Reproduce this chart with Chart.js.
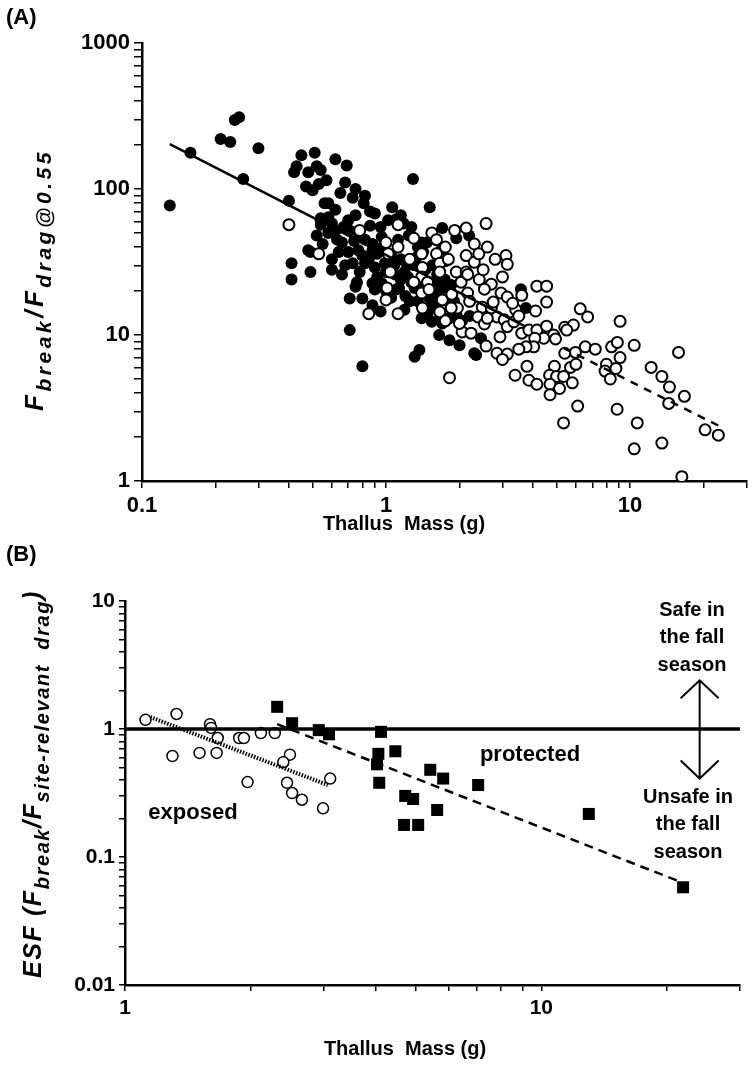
<!DOCTYPE html>
<html>
<head>
<meta charset="utf-8">
<script src="https://cdn.jsdelivr.net/npm/chart.js@4.4.0/dist/chart.umd.min.js"></script>
<style>
  body { margin: 0; background: #fff; width: 754px; height: 1071px; position: relative; overflow: hidden; }
  canvas { position: absolute; left: 0; }
  #chartA { top: 0; }
  #chartB { top: 540px; }
</style>
</head>
<body>
<canvas id="chartA" width="754" height="540"></canvas>
<canvas id="chartB" width="754" height="531"></canvas>
<script>
// ---- panel A: breaking force / drag vs thallus mass ----
const massFilled = [
  0.13, 0.158, 0.21, 0.23, 0.24, 0.25, 0.30, 0.26, 0.40, 0.41, 0.41, 0.49, 0.49, 0.45, 0.51,
  0.43, 0.42, 0.48, 0.52, 0.54, 0.47, 0.50, 0.53, 0.54, 0.54, 0.55, 0.56, 0.48, 0.58, 0.65,
  0.68, 0.69, 0.73, 0.82, 0.81, 0.90, 1.06, 1.29, 1.51, 0.58, 0.54, 0.62, 0.70, 0.71, 0.78,
  0.82, 0.88, 1.02, 1.10, 1.18, 1.27, 1.24, 0.96, 0.97, 0.88, 0.77, 0.70, 0.64, 0.52, 0.60,
  0.60, 0.66, 0.73, 0.82, 0.90, 0.99, 1.09, 1.19, 1.23, 1.27, 1.31, 1.36, 1.35, 1.40, 1.47,
  1.74, 1.72, 0.88, 0.90, 0.96, 0.75, 0.71, 0.80, 0.88, 1.19, 1.40, 1.54, 1.66, 1.82, 1.48,
  0.71, 0.80, 1.31, 1.37, 1.82, 2.00, 1.70, 1.94, 2.19, 2.30, 3.57, 3.74, 2.34,
  0.62, 0.57, 0.75, 0.95, 1.05, 1.15, 1.12, 1.30, 1.45, 1.60, 1.50, 1.25, 1.05, 0.92, 0.63,
  0.75, 0.86, 1.55, 2.05, 1.90, 0.66, 0.78, 1.13, 1.60, 2.20, 2.45, 1.65, 0.95,
  0.58, 0.60, 0.67, 0.74, 0.80, 0.85, 0.92, 1.00, 1.08, 1.15, 1.22, 1.33, 1.42, 1.55, 1.62,
  1.68, 1.75, 1.85, 0.68, 0.76, 1.00, 1.10, 1.20, 1.35, 1.60, 1.70, 1.95, 0.86, 0.62, 1.15
];
const ratioFilled = [
  77, 177, 220, 210, 297, 310, 190, 117, 83, 31, 24, 37, 27, 170, 177,
  143, 130, 130, 143, 135, 104, 98, 108, 63, 57, 42, 80, 38, 80, 94,
  111, 145, 87, 90, 80, 68, 75, 117, 75, 64, 61, 52, 61, 52, 48,
  45, 42, 61, 62, 58, 55, 48, 47, 40, 38, 38, 37, 37, 48, 33,
  28, 26, 31, 31, 29, 31, 26, 27, 25, 23, 21, 23, 40, 43, 43,
  24, 21, 22.6, 20.5, 22.6, 21.4, 17.8, 17.8, 16, 14.9, 13, 12.3, 13, 13, 14,
  10.8, 6.1, 7.1, 7.9, 9.2, 8.5, 54, 46, 48, 7.5, 20.6, 15.3, 7.3,
  160, 115, 100, 55, 35, 33, 45, 30, 28, 22, 18, 17, 18, 25, 45,
  66, 56, 16, 12.5, 17, 43, 27, 21, 19, 13.5, 9.5, 10, 14.5,
  50, 58, 55, 44, 35, 33, 36, 27, 30, 24, 30, 34, 37, 30, 26,
  38, 32, 22, 30, 23, 20, 20.5, 18.5, 17, 15.5, 12, 13.5, 70, 72, 66
];
const massOpen = [
  0.40, 0.53, 0.78, 1.00, 1.12, 1.12, 1.02, 1.04, 1.01, 1.00, 0.85, 1.12, 1.54, 1.61, 1.40,
  1.61, 1.66, 1.41, 1.40, 1.66, 1.48, 1.30, 1.40, 1.41, 1.66, 1.70, 1.91, 2.13, 1.94, 2.13,
  2.13, 2.03, 1.86, 1.96, 1.85, 2.05, 2.23, 1.82, 2.57, 3.10, 3.14, 2.30, 2.16, 2.41, 2.70,
  2.53, 2.96, 3.14, 3.60, 4.15, 4.55, 4.55, 4.10, 3.40, 2.16, 2.48, 2.70, 2.38, 2.53, 2.85,
  3.05, 3.14, 3.34, 2.93, 3.60, 3.85, 4.15, 4.55, 4.86, 4.95, 4.43, 4.07, 4.03, 3.75, 3.50,
  2.57, 2.85, 3.14, 3.00, 3.78, 3.38, 3.85, 4.15, 4.90, 4.68, 5.00, 4.70, 5.14, 4.70, 5.34,
  5.70, 6.00, 5.80, 5.40, 5.86, 5.50, 6.25, 6.70, 5.97, 5.40, 6.55, 7.20, 9.10, 8.40, 8.87,
  10.4, 8.00, 7.90, 8.75, 8.30, 9.10, 6.10, 5.34, 8.85, 10.7, 10.4, 13.5, 12.2, 13.5, 14.5,
  15.8, 16.7, 14.4, 20.3, 23.0, 16.3,
  1.30, 1.75, 1.80, 2.30, 2.40, 2.60, 2.80, 2.50, 1.25, 1.50, 1.75, 2.00, 2.60, 2.20, 3.30,
  3.50, 3.00, 2.75
];
const ratioOpen = [
  57, 36, 52, 43, 57, 40, 36, 27, 21, 17.4, 14, 14, 50, 45, 36,
  36, 31, 29, 25, 27, 23, 23, 19.4, 15.3, 14.4, 17.4, 52, 54, 27, 27,
  35, 23, 19, 15.3, 15.3, 10.5, 10.3, 5.1, 58, 35, 30.5, 31.5, 26, 24, 22.3,
  20.6, 19.4, 18.2, 18.7, 21.6, 21.6, 16.8, 14.6, 14.9, 19.4, 15.5, 15.3, 13.3, 11.9, 13.3,
  12.7, 11.4, 12.3, 9.7, 10.3, 10.8, 10.8, 11.5, 10, 9.4, 9.5, 9.5, 8.3, 8.3, 8.0,
  8.4, 7.5, 7.4, 6.8, 6.1, 5.3, 4.9, 4.6, 6.1, 5.3, 5.2, 4.6, 4.3, 3.9, 5.2,
  6.0, 6.3, 4.7, 11.3, 11.7, 10.8, 15.1, 13.3, 7.6, 7.5, 8.3, 8.0, 12.4, 8.3, 8.9,
  8.5, 6.3, 5.66, 5.9, 5.0, 7.0, 3.26, 2.5, 3.1, 2.5, 1.66, 1.82, 6.0, 5.2, 4.4,
  7.6, 3.8, 3.4, 2.24, 2.06, 1.07,
  46, 40, 33, 42, 36, 40, 33, 28, 33, 20.5, 12.5, 12, 13, 17, 16.5,
  13.5, 25, 16.8
];
const fitSolidMass = [0.13, 3.7];
const fitSolidRatio = [203, 11.5];
const fitDashMass = [5.34, 23.2];
const fitDashRatio = [8.15, 2.38];

const decadesXA = [0.1, 1, 10];
const labelsXA = ['0.1', '1', '10'];
const decadesYA = [1, 10, 100, 1000];
const labelsYA = ['1', '10', '100', '1000'];

// ---- panel B: environmental safety factor ----
const exposedMass = [1.12, 1.33, 1.30, 1.51, 1.60, 1.61, 1.67, 1.66, 1.88, 1.93, 1.97, 2.12, 2.29, 2.49, 2.40, 2.45, 2.52, 2.66, 2.99, 3.11];
const exposedEsf  = [1.18, 1.31, 0.615, 0.65, 1.09, 1.02, 0.85, 0.65, 0.85, 0.85, 0.385, 0.93, 0.93, 0.63, 0.55, 0.38, 0.316, 0.28, 0.24, 0.41];
const protectedMass = [2.32, 2.52, 2.92, 3.09, 4.12, 4.06, 4.03, 4.08, 4.46, 5.41, 4.71, 4.92, 5.62, 4.68, 5.06, 5.81, 7.05, 13.0, 21.9];
const protectedEsf  = [1.49, 1.11, 0.98, 0.91, 0.95, 0.64, 0.53, 0.38, 0.67, 0.48, 0.30, 0.284, 0.233, 0.178, 0.178, 0.41, 0.365, 0.217, 0.058];
const exposedFitMass = [1.15, 3.07];
const exposedFitEsf = [1.24, 0.365];
const protectedFitMass = [2.32, 21.3];
const protectedFitEsf = [1.09, 0.065];
const safeLineMass = [1, 30];
const safeLineEsf = [1, 1];
const arrowMass = 24, arrowTop = 2.4, arrowBottom = 0.41;

const decadesXB = [1, 10];
const labelsXB = ['1', '10'];
const decadesYB = [0.01, 0.1, 1, 10];
const labelsYB = ['0.01', '0.1', '1', '10'];

const FONT = '"Liberation Sans", Arial, Helvetica, sans-serif';

function pts(xs, ys) { return xs.map((x, i) => ({ x: x, y: ys[i] })); }

function logTicks(decades, top) {
  const out = [];
  decades.forEach(d => {
    for (let m = 1; m <= 9; m++) {
      const v = m === 1 ? d : +(d * m).toPrecision(3);
      if (v <= top) out.push(v);
    }
  });
  return out;
}

function logAxis(decades, labels, top, opts) {
  return {
    type: 'logarithmic',
    min: decades[0],
    max: top,
    afterBuildTicks: s => { s.ticks = logTicks(decades, top).map(v => ({ value: v })); },
    afterFit: opts.fit,
    grid: { drawOnChartArea: false, drawTicks: true, tickLength: opts.tick, color: '#000', lineWidth: 1.5 },
    border: { display: true, color: '#000', width: 2.5 },
    ticks: {
      autoSkip: false, maxRotation: 0, color: '#000', padding: opts.pad,
      font: { family: FONT, size: opts.size, weight: 'bold' },
      callback: v => { const i = decades.indexOf(v); return i >= 0 ? labels[i] : ''; }
    }
  };
}

// rotated axis title with subscripts, spaced out to a given length
function drawRich(ctx, parts, cx, cy, target) {
  ctx.save();
  let natural = 0, count = 0;
  parts.forEach(p => {
    ctx.font = 'italic bold ' + p.size + 'px ' + FONT;
    for (const ch of p.t) natural += ctx.measureText(ch).width;
    count += p.t.length;
  });
  const gap = (target - natural) / count;
  ctx.translate(cx, cy);
  ctx.rotate(-Math.PI / 2);
  ctx.fillStyle = '#000';
  ctx.textBaseline = 'alphabetic';
  ctx.textAlign = 'left';
  let x = -target / 2;
  parts.forEach(p => {
    ctx.font = 'italic bold ' + p.size + 'px ' + FONT;
    for (const ch of p.t) {
      ctx.fillText(ch, x, p.sub ? 16 : 8);
      x += ctx.measureText(ch).width + gap;
    }
  });
  ctx.restore();
}

function text(ctx, s, x, y, size, align) {
  ctx.font = 'bold ' + size + 'px ' + FONT;
  ctx.fillStyle = '#000';
  ctx.textAlign = align || 'center';
  ctx.textBaseline = 'middle';
  ctx.fillText(s, x, y);
}

const panelAText = {
  id: 'panelAText',
  afterDraw(chart) {
    const ctx = chart.ctx;
    ctx.save();
    text(ctx, '(A)', 6, 18, 22, 'left');
    text(ctx, 'Thallus  Mass (g)', 404, 524, 20);
    drawRich(ctx, [
      { t: 'F', size: 26 }, { t: 'break', size: 21, sub: true },
      { t: '/F', size: 26 }, { t: 'drag@0.55', size: 21, sub: true }
    ], 35, 280, 262);
    ctx.restore();
  }
};

const panelBText = {
  id: 'panelBText',
  afterDraw(chart) {
    const ctx = chart.ctx;
    const xs = chart.scales.x, ys = chart.scales.y;
    ctx.save();
    text(ctx, '(B)', 6, 15, 22, 'left');
    text(ctx, 'Thallus  Mass (g)', 405, 509, 20);
    drawRich(ctx, [
      { t: 'ESF (', size: 25 }, { t: 'F', size: 25 }, { t: 'break', size: 20, sub: true },
      { t: '/F', size: 25 }, { t: 'site-relevant  drag', size: 20, sub: true }, { t: ')', size: 25 }
    ], 33, 244, 388);
    ['Safe in', 'the fall', 'season'].forEach((s, i) => text(ctx, s, 692, 70 + i * 27.5, 20));
    ['Unsafe in', 'the fall', 'season'].forEach((s, i) => text(ctx, s, 688, 257 + i * 27.5, 20));
    text(ctx, 'protected', 530, 215, 22);
    text(ctx, 'exposed', 193, 273, 22);
    // double-headed arrow
    const px = xs.getPixelForValue(arrowMass);
    const pt = ys.getPixelForValue(arrowTop), pb = ys.getPixelForValue(arrowBottom);
    ctx.strokeStyle = '#000';
    ctx.lineWidth = 2;
    ctx.beginPath();
    ctx.moveTo(px, pt); ctx.lineTo(px, pb);
    ctx.moveTo(px - 19, pt + 18); ctx.lineTo(px, pt); ctx.lineTo(px + 19, pt + 18);
    ctx.moveTo(px - 19, pb - 18); ctx.lineTo(px, pb); ctx.lineTo(px + 19, pb - 18);
    ctx.stroke();
    ctx.restore();
  }
};

const lineSet = (xs, ys, width, dash) => ({
  data: pts(xs, ys), showLine: true, pointRadius: 0, borderColor: '#000',
  borderWidth: width, borderDash: dash, fill: false, order: 0
});

new Chart(document.getElementById('chartA'), {
  type: 'scatter',
  data: {
    datasets: [
      lineSet(fitSolidMass, fitSolidRatio, 2.5, []),
      lineSet(fitDashMass, fitDashRatio, 2.5, [8, 7]),
      { data: pts(massOpen, ratioOpen), pointRadius: 5.5, pointBackgroundColor: '#fff',
        pointBorderColor: '#000', pointBorderWidth: 2, order: 1 },
      { data: pts(massFilled, ratioFilled), pointRadius: 6, pointBackgroundColor: '#000',
        pointBorderColor: '#000', pointBorderWidth: 0, order: 2 }
    ]
  },
  options: {
    responsive: false, animation: false, events: [],
    layout: { padding: { top: 43, right: 0, left: 0, bottom: 0 } },
    plugins: { legend: { display: false }, tooltip: { enabled: false } },
    scales: {
      x: logAxis(decadesXA, labelsXA, 30, { tick: 7, pad: 5, size: 22, fit: s => { s.height = 59; } }),
      y: logAxis(decadesYA, labelsYA, 1000, { tick: 8, pad: 4, size: 22, fit: s => { s.width = 142; } })
    }
  },
  plugins: [panelAText]
});

new Chart(document.getElementById('chartB'), {
  type: 'scatter',
  data: {
    datasets: [
      lineSet(safeLineMass, safeLineEsf, 3.5, []),
      lineSet(exposedFitMass, exposedFitEsf, 4, [1.5, 1.5]),
      lineSet(protectedFitMass, protectedFitEsf, 2.5, [9, 6]),
      { data: pts(exposedMass, exposedEsf), pointRadius: 5.5, pointBackgroundColor: '#fff',
        pointBorderColor: '#000', pointBorderWidth: 1.5, order: 1 },
      { data: pts(protectedMass, protectedEsf), pointStyle: 'rect', pointRadius: 8.5,
        pointBackgroundColor: '#000', pointBorderColor: '#000', pointBorderWidth: 0, order: 1 }
    ]
  },
  options: {
    responsive: false, animation: false, events: [],
    layout: { padding: { top: 61, right: 14, left: 0, bottom: 0 } },
    plugins: { legend: { display: false }, tooltip: { enabled: false } },
    scales: {
      x: logAxis(decadesXB, labelsXB, 30, { tick: 6, pad: 5, size: 21, fit: s => { s.height = 86; } }),
      y: logAxis(decadesYB, labelsYB, 10, { tick: 6, pad: 4, size: 21, fit: s => { s.width = 125; } })
    }
  },
  plugins: [panelBText]
});
</script>
</body>
</html>
